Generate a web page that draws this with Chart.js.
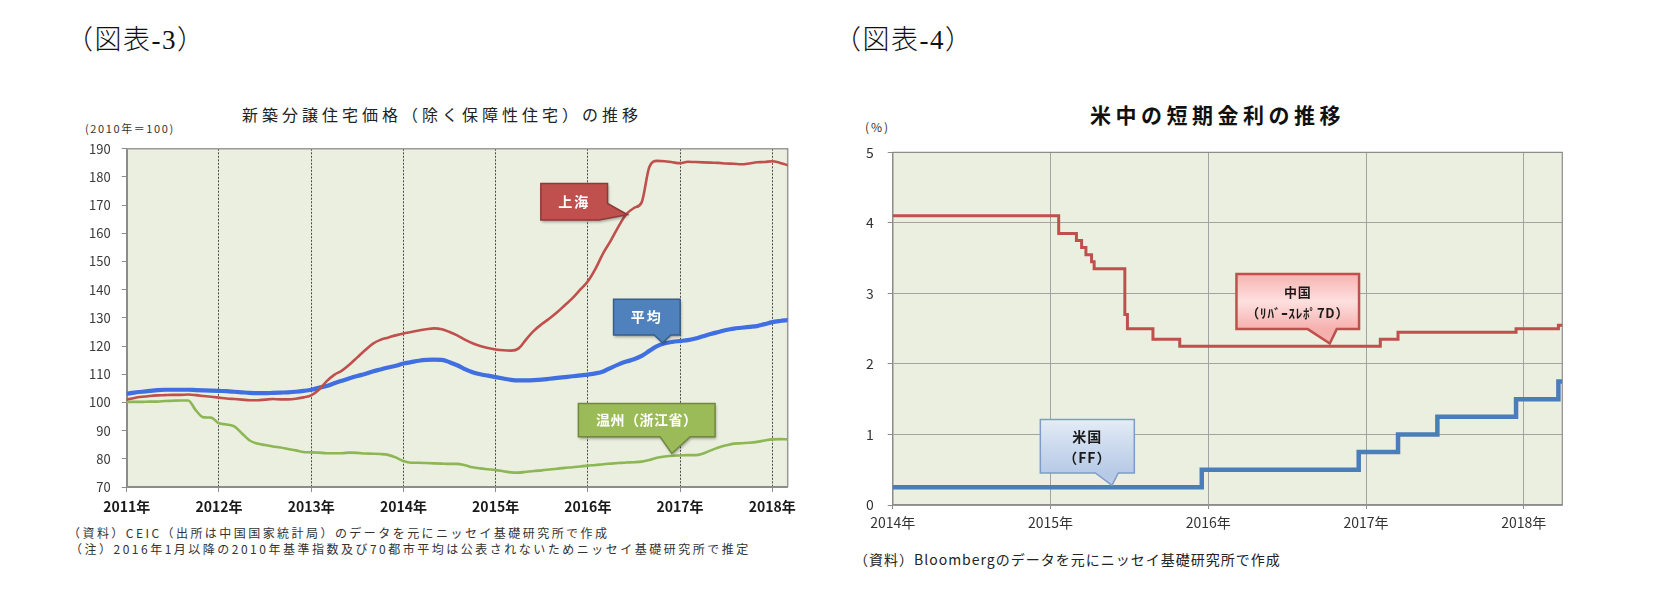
<!DOCTYPE html>
<html>
<head>
<meta charset="utf-8">
<script src="https://cdn.jsdelivr.net/npm/chart.js@4.4.1/dist/chart.umd.min.js"></script>
<style>
  body { margin: 0; width: 1662px; height: 603px; background: #fff; position: relative; overflow: hidden;
         font-family: "Noto Sans CJK JP", sans-serif; color: #1a1a1a; }
  .t { position: absolute; white-space: nowrap; line-height: 1; }
  .hdr { font-family: "Liberation Serif", "Noto Sans CJK JP", serif; font-size: 27px; font-weight: 300;
         letter-spacing: 1.5px; color: #111; }
  canvas { position: absolute; }
</style>
</head>
<body>
<div class="t hdr" style="left:66px;top:27px">（図表-3）</div>
<div class="t hdr" style="left:834px;top:27px">（図表-4）</div>

<div class="t" style="left:242px;top:106px;font-size:16px;letter-spacing:4px;color:#222">新築分譲住宅価格（除く保障性住宅）の推移</div>
<div class="t" style="left:85px;top:123px;font-size:11px;letter-spacing:1.6px;color:#333">(2010年＝100)</div>
<div class="t" style="left:68px;top:527px;font-size:12px;letter-spacing:2.45px;color:#333">（資料）CEIC（出所は中国国家統計局）のデータを元にニッセイ基礎研究所で作成</div>
<div class="t" style="left:70px;top:543px;font-size:12px;letter-spacing:2.5px;color:#333">（注）2016年1月以降の2010年基準指数及び70都市平均は公表されないためニッセイ基礎研究所で推定</div>

<div class="t" style="left:1090px;top:104px;font-size:21px;font-weight:bold;letter-spacing:4.5px;color:#111">米中の短期金利の推移</div>
<div class="t" style="left:865px;top:121px;font-size:12px;letter-spacing:2px;color:#333">(%)</div>
<div class="t" style="left:854px;top:552px;font-size:14px;letter-spacing:1px;color:#222">（資料）Bloombergのデータを元にニッセイ基礎研究所で作成</div>

<canvas id="chart3" width="760" height="400" style="left:60px;top:130px"></canvas>
<canvas id="chart4" width="760" height="410" style="left:820px;top:130px"></canvas>

<script>
// ---- 図表-3：月次（2011年1月〜2018年3月）----
const startYear3 = 2011;
const years3 = [2011, 2012, 2013, 2014, 2015, 2016, 2017, 2018];
const yTicks3 = [70, 80, 90, 100, 110, 120, 130, 140, 150, 160, 170, 180, 190];
const shanghai = [
  101.0, 101.6, 102.0, 102.3, 102.5, 102.6, 102.7, 102.7, 102.8, 102.6, 102.3, 102.0,
  101.7, 101.4, 101.2, 101.0, 100.8, 100.8, 101.0, 101.2, 101.1, 101.1, 101.3, 101.8,
  102.5, 104.5, 107.5, 109.8, 111.3, 113.5, 116.0, 118.5, 120.8, 122.2, 123.0, 123.8,
  124.5, 125.0, 125.5, 126.0, 126.3, 126.0, 125.0, 123.8, 122.3, 121.0, 120.0, 119.3,
  118.8, 118.5, 118.4, 119.2, 122.5, 125.5, 127.8, 129.8, 132.0, 134.5, 137.0, 140.0,
  143.0, 147.5, 153.0, 157.5, 162.5, 166.8, 169.0, 171.0, 183.5, 185.7, 185.6, 185.2,
  184.9, 185.4, 185.3, 185.2, 185.1, 185.0, 184.8, 184.7, 184.5, 184.8, 185.2, 185.3,
  185.6, 185.0, 184.2
];
const average = [
  103.1, 103.5, 103.8, 104.1, 104.4, 104.5, 104.5, 104.5, 104.5, 104.4, 104.3, 104.2,
  104.1, 104.0, 103.8, 103.6, 103.4, 103.3, 103.3, 103.4, 103.5, 103.6, 103.8, 104.1,
  104.5, 105.2, 105.8, 106.8, 107.7, 108.6, 109.4, 110.1, 111.0, 111.7, 112.4, 113.0,
  113.8, 114.3, 114.8, 115.1, 115.2, 115.1, 114.3, 113.2, 111.8, 110.7, 110.0, 109.5,
  109.0, 108.5, 108.0, 107.8, 107.8, 107.9, 108.1, 108.4, 108.7, 109.0, 109.3, 109.6,
  109.9, 110.3, 111.0, 112.3, 113.5, 114.5, 115.3, 116.5, 118.3, 120.0, 121.0, 121.5,
  121.8, 122.1, 122.7, 123.5, 124.3, 125.0, 125.7, 126.2, 126.5, 126.8, 127.1, 127.8,
  128.5, 128.9, 129.2
];
const wenzhou = [
  100.2, 100.2, 100.2, 100.3, 100.3, 100.5, 100.6, 100.7, 100.7, 97.2, 94.7, 94.6,
  92.6, 92.2, 91.5, 89.0, 86.5, 85.4, 84.9, 84.4, 84.0, 83.5, 83.0, 82.4,
  82.3, 82.2, 82.0, 82.0, 82.0, 82.2, 82.1, 81.9, 81.8, 81.7, 81.4, 80.5,
  79.2, 78.6, 78.6, 78.5, 78.4, 78.3, 78.2, 78.2, 77.7, 77.0, 76.6, 76.3,
  76.0, 75.6, 75.2, 75.1, 75.4, 75.7, 75.9, 76.2, 76.5, 76.8, 77.0, 77.3,
  77.6, 77.8, 78.1, 78.3, 78.5, 78.7, 78.8, 79.0, 79.6, 80.4, 80.8, 81.1,
  81.2, 81.3, 81.3, 81.9, 83.0, 84.0, 84.8, 85.4, 85.5, 85.7, 86.0, 86.5,
  86.9, 87.0, 86.9
];

// ---- 図表-4：政策金利の変更日と水準 ----
const years4 = [2014, 2015, 2016, 2017, 2018];
const yTicks4 = [0, 1, 2, 3, 4, 5];
const cnDates = ['2014-01-01', '2015-01-20', '2015-03-02', '2015-03-14', '2015-03-24', '2015-04-06',
                 '2015-04-12', '2015-06-22', '2015-06-28', '2015-08-26', '2015-10-27', '2017-02-03',
                 '2017-03-16', '2017-12-14', '2018-03-22', '2018-03-31'];
const cnRates = [4.1, 3.85, 3.75, 3.65, 3.55, 3.45, 3.35, 2.7, 2.5, 2.35, 2.25, 2.35, 2.45, 2.5, 2.55, 2.55];
const usDates = ['2014-01-01', '2015-12-17', '2016-12-15', '2017-03-16', '2017-06-15', '2017-12-14',
                 '2018-03-22', '2018-03-31'];
const usRates = [0.25, 0.5, 0.75, 1.0, 1.25, 1.5, 1.75, 1.75];

Chart.defaults.font.family = '"Noto Sans CJK JP", sans-serif';

// 日付文字列 → 年の小数表現
function decYear(s) {
  const [y, m, d] = s.split('-').map(Number);
  const start = Date.UTC(y, 0, 1), end = Date.UTC(y + 1, 0, 1);
  return y + (Date.UTC(y, m - 1, d) - start) / (end - start);
}
const monthly = arr => arr.map((v, i) => ({x: startYear3 + i / 12, y: v}));
const dated = (dates, vals) => dates.map((d, i) => ({x: decYear(d), y: vals[i]}));

// 背景色と上・右の枠線
const plotFrame = {
  id: 'plotFrame',
  beforeDraw(chart, args, o) {
    const {ctx, chartArea: a} = chart;
    ctx.save();
    ctx.fillStyle = o.fill;
    ctx.fillRect(a.left, a.top, a.right - a.left, a.bottom - a.top);
    ctx.restore();
  },
  beforeDatasetsDraw(chart, args, o) {
    const {ctx, chartArea: a} = chart;
    ctx.save();
    ctx.strokeStyle = o.stroke;
    ctx.lineWidth = o.width;
    ctx.beginPath();
    ctx.moveTo(a.left, a.top);
    ctx.lineTo(a.right, a.top);
    ctx.lineTo(a.right, a.bottom);
    ctx.stroke();
    ctx.restore();
  }
};

// 吹き出しラベル（先端はデータ座標、箱は先端からのピクセル位置）
const callouts = {
  id: 'callouts',
  afterDatasetsDraw(chart, args, o) {
    const {ctx, scales: {x, y}} = chart;
    (o.items || []).forEach(c => {
      const tx = x.getPixelForValue(c.tip[0]);
      const ty = y.getPixelForValue(c.tip[1]);
      const L = tx + c.box[0], T = ty + c.box[1], R = L + c.box[2], B = T + c.box[3];
      ctx.save();
      ctx.beginPath();
      ctx.moveTo(L, T);
      ctx.lineTo(R, T);
      if (c.side === 'right') {
        ctx.lineTo(R, T + c.base[0]);
        ctx.lineTo(tx, ty);
        ctx.lineTo(L + c.base[1], B);
      } else {
        ctx.lineTo(R, B);
        ctx.lineTo(L + c.base[1], B);
        ctx.lineTo(tx, ty);
        ctx.lineTo(L + c.base[0], B);
      }
      ctx.lineTo(L, B);
      ctx.closePath();
      let fill = c.fill;
      if (c.gradient) {
        const g = ctx.createLinearGradient(L, T, L, B);
        c.gradient.forEach((col, i) => g.addColorStop(i / (c.gradient.length - 1), col));
        fill = g;
      }
      if (c.shadow) {
        ctx.shadowColor = 'rgba(0,0,0,0.35)';
        ctx.shadowBlur = 3;
        ctx.shadowOffsetX = 1;
        ctx.shadowOffsetY = 2;
      }
      ctx.fillStyle = fill;
      ctx.fill();
      ctx.shadowColor = 'transparent';
      ctx.strokeStyle = c.stroke;
      ctx.lineWidth = c.strokeWidth;
      ctx.lineJoin = 'miter';
      ctx.stroke();
      ctx.fillStyle = c.color;
      ctx.font = c.font;
      if ('letterSpacing' in ctx) ctx.letterSpacing = (c.spacing || 0) + 'px';
      ctx.textAlign = 'center';
      ctx.textBaseline = 'middle';
      const cx = (L + R) / 2, cy = (T + B) / 2;
      const n = c.lines.length;
      c.lines.forEach((t, i) => {
        ctx.fillText(t, cx, cy + (i - (n - 1) / 2) * c.lineGap + (c.dy || 0));
      });
      ctx.restore();
    });
  }
};

new Chart(document.getElementById('chart3'), {
  type: 'line',
  data: {
    datasets: [
      {label: '上海', data: monthly(shanghai), borderColor: '#C0504D', borderWidth: 2.6},
      {label: '平均', data: monthly(average), borderColor: '#3F6FE0', borderWidth: 4.2},
      {label: '温州（浙江省）', data: monthly(wenzhou), borderColor: '#8DB654', borderWidth: 2.6}
    ]
  },
  options: {
    responsive: false,
    animation: false,
    layout: {padding: {top: 16.7, right: 32.3, left: 0, bottom: 0}},
    elements: {
      point: {radius: 0},
      line: {tension: 0.3, cubicInterpolationMode: 'monotone', borderCapStyle: 'round'}
    },
    plugins: {
      legend: {display: false},
      tooltip: {enabled: false},
      plotFrame: {fill: '#EBEFDF', stroke: '#9a9a9a', width: 1.5},
      callouts: {items: [
        {lines: ['上海'], tip: [2016.43, 166.6], box: [-86.7, -31.3, 66.7, 36.6], side: 'right', base: [20, 58],
         fill: '#C0504D', stroke: '#8C3B38', strokeWidth: 1.5, shadow: true,
         color: '#fff', font: 'bold 14px "Noto Sans CJK JP"', spacing: 2, lineGap: 0},
        {lines: ['平均'], tip: [2016.81, 121.2], box: [-49, -43.4, 66.6, 35.7], base: [40.6, 57.3],
         fill: '#4F81BD', stroke: '#385D8A', strokeWidth: 1.5, shadow: true,
         color: '#fff', font: 'bold 14px "Noto Sans CJK JP"', spacing: 2, lineGap: 0},
        {lines: ['温州（浙江省）'], tip: [2016.91, 81.9], box: [-93.4, -50, 136.7, 33.4], base: [81.7, 111.7],
         fill: '#9BBB59', stroke: '#71893F', strokeWidth: 1.5, shadow: true,
         color: '#fff', font: 'bold 14px "Noto Sans CJK JP"', spacing: 0.5, lineGap: 0}
      ]}
    },
    scales: {
      x: {
        type: 'linear',
        min: startYear3,
        max: 2018 + 2 / 12,
        afterBuildTicks: s => { s.ticks = years3.map(v => ({value: v})); },
        afterFit: s => { s.height = 43; },
        ticks: {callback: v => v + '年', autoSkip: false, maxRotation: 0, padding: 6,
                color: '#1a1a1a', font: {size: 14, weight: 'bold'}},
        grid: {color: '#4a4a4a', lineWidth: 1, drawTicks: true, tickLength: 5, tickColor: '#8c8c8c'},
        border: {display: true, color: '#8c8c8c', width: 2, dash: [2, 1.5]}
      },
      y: {
        min: 70,
        max: 190,
        afterBuildTicks: s => { s.ticks = yTicks3.map(v => ({value: v})); },
        afterFit: s => { s.width = 66.7; },
        ticks: {padding: 11, color: '#3a3a3a', font: {size: 13}},
        grid: {drawOnChartArea: false, drawTicks: true, tickLength: 5, tickColor: '#8c8c8c'},
        border: {display: true, color: '#8c8c8c', width: 2}
      }
    }
  },
  plugins: [plotFrame, callouts]
});

new Chart(document.getElementById('chart4'), {
  type: 'line',
  data: {
    datasets: [
      {label: '中国（リバースレポ7D）', data: dated(cnDates, cnRates), borderColor: '#C0504D', borderWidth: 3, stepped: 'before'},
      {label: '米国（FF）', data: dated(usDates, usRates), borderColor: '#4A7EBB', borderWidth: 4.5, stepped: 'before'}
    ]
  },
  options: {
    responsive: false,
    animation: false,
    layout: {padding: {top: 18.3, right: 17.7, left: 0, bottom: 0}},
    elements: {point: {radius: 0}},
    plugins: {
      legend: {display: false},
      tooltip: {enabled: false},
      plotFrame: {fill: '#EBEFDF', stroke: '#8c8c8c', width: 1.2},
      callouts: {items: [
        {lines: ['中国', '（ﾘﾊﾞｰｽﾚﾎﾟ7D）'], tip: [2016.77, 2.29], box: [-93.3, -69.4, 122.6, 55], base: [71.3, 100.3],
         gradient: ['#F6B3B1', '#FDE0DF', '#F6B0AE'], stroke: '#C0504D', strokeWidth: 2.5,
         color: '#1a1a1a', font: 'bold 13px "Noto Sans CJK JP"', spacing: 0.8, lineGap: 21, dy: 1},
        {lines: ['米国', '（FF）'], tip: [2015.39, 0.28], box: [-71.7, -65.7, 94, 53.4], base: [55, 78],
         gradient: ['#E4ECF7', '#CCDAEE', '#B7CAE6'], stroke: '#7E9CCB', strokeWidth: 1.5,
         color: '#1a1a1a', font: 'bold 14px "Noto Sans CJK JP"', spacing: 1, lineGap: 21, dy: 1}
      ]}
    },
    scales: {
      x: {
        type: 'linear',
        min: decYear('2014-01-01'),
        max: decYear('2018-03-31'),
        afterBuildTicks: s => { s.ticks = years4.map(v => ({value: v})); },
        afterFit: s => { s.height = 35; },
        ticks: {callback: v => v + '年', autoSkip: false, maxRotation: 0, padding: 5,
                color: '#333', font: {size: 14}},
        grid: {color: '#a3a3a3', lineWidth: 1, drawTicks: true, tickLength: 4, tickColor: '#8c8c8c'},
        border: {display: true, color: '#8c8c8c', width: 1.5}
      },
      y: {
        min: 0,
        max: 5,
        afterBuildTicks: s => { s.ticks = yTicks4.map(v => ({value: v})); },
        afterFit: s => { s.width = 72.7; },
        ticks: {padding: 14, color: '#333', font: {size: 14}},
        grid: {color: '#a3a3a3', lineWidth: 1, drawTicks: true, tickLength: 5, tickColor: '#8c8c8c'},
        border: {display: true, color: '#8c8c8c', width: 1.5}
      }
    }
  },
  plugins: [plotFrame, callouts]
});
</script>
</body>
</html>
